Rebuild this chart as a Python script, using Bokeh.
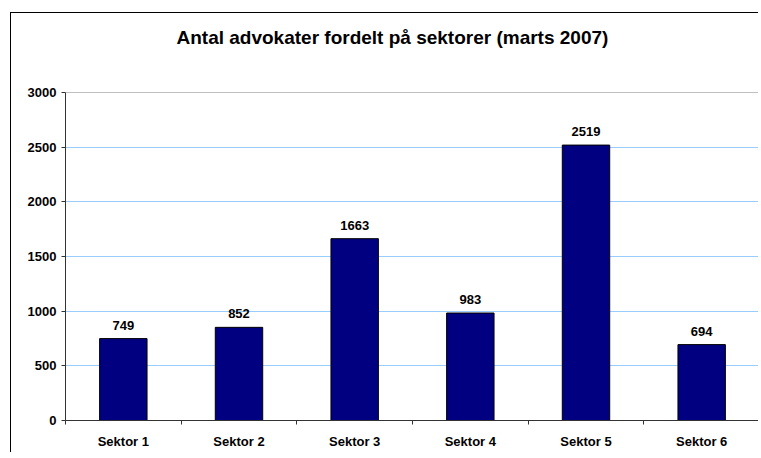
from bokeh.plotting import figure
from bokeh.models import ColumnDataSource, FixedTicker, LabelSet, Span, Title
from bokeh.core.properties import value
from bokeh.embed import file_html
from bokeh.resources import INLINE

categories = ["Sektor 1", "Sektor 2", "Sektor 3", "Sektor 4", "Sektor 5", "Sektor 6"]
values = [749, 852, 1663, 983, 2519, 694]
y_ticks = [0, 500, 1000, 1500, 2000, 2500, 3000]
title_text = "Antal advokater fordelt på sektorer (marts 2007)"

y_max = 3000
n = len(categories)
centers = [i + 0.5 for i in range(n)]

src = ColumnDataSource(dict(x=centers, top=values, label=[str(v) for v in values]))

FONT = "Liberation Sans"

p = figure(width=748, height=440, output_backend="svg", toolbar_location=None,
           x_range=(0, n), y_range=(0, y_max),
           min_border_left=54, min_border_right=0, min_border_top=79, min_border_bottom=33)
p.margin = (12, 0, 0, 10)
p.styles = {"border-left": "1px solid black", "border-top": "1px solid black",
            "border-right": "none", "border-bottom": "none"}
p.outline_line_color = None
p.background_fill_color = "white"
p.border_fill_color = "white"

spacer = Title(text=" ", text_font_size="1px", standoff=42)
p.add_layout(spacer, "above")
main_title = Title(text=title_text, align="left", text_font=FONT, text_font_size="19px",
                   text_font_style="bold", text_color="black", offset=111, standoff=0)
p.add_layout(main_title, "above")

p.vbar(x="x", top="top", width=0.41, source=src, fill_color="#000080",
       line_color="black", line_width=1)

labels = LabelSet(x="x", y="top", text="label", source=src, text_align="center",
                  text_baseline="bottom", y_offset=9, text_font=value(FONT),
                  text_font_size=value("13px"), text_font_style="bold", text_color="black")
p.add_layout(labels)

p.add_layout(Span(location=y_max, dimension="width", line_color="#808080", line_width=1))

# x axis
p.xaxis.ticker = FixedTicker(ticks=centers, minor_ticks=list(range(n + 1)))
p.xaxis.major_label_overrides = {c: lab for c, lab in zip(centers, categories)}
p.xaxis.major_tick_out = 0
p.xaxis.major_tick_in = 0
p.xaxis.minor_tick_out = 4
p.xaxis.minor_tick_in = 0
p.xaxis.major_label_standoff = 9
p.xaxis.axis_line_color = "#333333"
p.xaxis.minor_tick_line_color = "#333333"
p.xaxis.major_label_text_font = FONT
p.xaxis.major_label_text_font_size = "13px"
p.xaxis.major_label_text_font_style = "bold"
p.xaxis.major_label_text_color = "black"

# y axis
p.yaxis.ticker = FixedTicker(ticks=y_ticks)
p.yaxis.minor_tick_line_color = None
p.yaxis.major_tick_out = 4
p.yaxis.major_tick_in = 0
p.yaxis.major_label_standoff = 5
p.yaxis.axis_line_color = "#333333"
p.yaxis.major_tick_line_color = "#333333"
p.yaxis.major_label_text_font = FONT
p.yaxis.major_label_text_font_size = "13px"
p.yaxis.major_label_text_font_style = "bold"
p.yaxis.major_label_text_color = "black"

p.xgrid.grid_line_color = None
p.ygrid.ticker = FixedTicker(ticks=y_ticks)
p.ygrid.grid_line_color = "#99CCFF"

open("out.html", "w").write(file_html(p, INLINE))
